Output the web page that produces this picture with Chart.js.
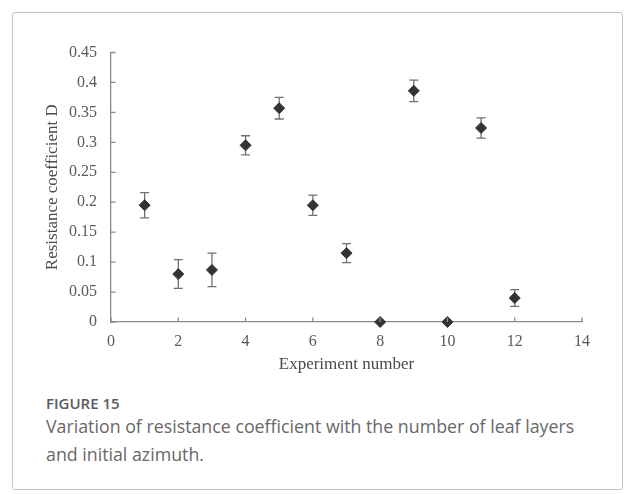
<!DOCTYPE html>
<html>
<head>
<meta charset="utf-8">
<script src="https://cdn.jsdelivr.net/npm/chart.js@4"></script>
<style>
  html, body { margin: 0; padding: 0; background: #fff; }
  body { width: 625px; height: 494px; position: relative; overflow: hidden; }
  #frame { position: absolute; left: 12px; top: 12px; width: 609px; height: 476px;
           border: 1.5px solid #c4c4c4; border-radius: 3px; }
  #wrap { position: absolute; left: 0; top: 0; width: 625px; height: 379px; }
  .figlabel { position: absolute; left: 46px; top: 393px; font-family: "Open Sans", sans-serif;
              font-weight: 600; font-size: 15px; line-height: 20px; color: #5a5a5a; }
  .caption { position: absolute; left: 46px; top: 412px; width: 560px; font-family: "Open Sans", sans-serif;
             font-weight: 400; font-size: 17.8px; line-height: 28px; color: #686868; }
</style>
</head>
<body>
<div id="frame"></div>
<div id="wrap"><canvas id="c"></canvas></div>
<div class="figlabel">FIGURE 15</div>
<div class="caption">Variation of resistance coefficient with the number of leaf layers and initial azimuth.</div>
<script>
const experiments = [1, 2, 3, 4, 5, 6, 7, 8, 9, 10, 11, 12];
const resistance  = [0.195, 0.080, 0.087, 0.295, 0.357, 0.195, 0.115, 0, 0.386, 0, 0.324, 0.040];
const errors      = [0.021, 0.024, 0.028, 0.016, 0.018, 0.017, 0.016, 0, 0.018, 0, 0.017, 0.014];
const xTicks = [0, 2, 4, 6, 8, 10, 12, 14];
const yTicks = [0, 0.05, 0.1, 0.15, 0.2, 0.25, 0.3, 0.35, 0.4, 0.45];

const AXIS_COLOR = '#8a8a8a';

const errorBars = {
  id: 'errorBars',
  beforeDatasetsDraw(chart) {
    const ctx = chart.ctx;
    const xs = chart.scales.x, ys = chart.scales.y;
    ctx.save();
    ctx.strokeStyle = '#707070';
    ctx.lineWidth = 1.3;
    experiments.forEach((e, i) => {
      if (!errors[i]) return;
      const px = xs.getPixelForValue(e);
      const top = ys.getPixelForValue(resistance[i] + errors[i]);
      const bot = ys.getPixelForValue(resistance[i] - errors[i]);
      ctx.beginPath();
      ctx.moveTo(px, top); ctx.lineTo(px, bot);
      ctx.moveTo(px - 4.5, top); ctx.lineTo(px + 4.5, top);
      ctx.moveTo(px - 4.5, bot); ctx.lineTo(px + 4.5, bot);
      ctx.stroke();
    });
    ctx.restore();
  }
};

const innerTicks = {
  id: 'innerTicks',
  afterDraw(chart) {
    const ctx = chart.ctx;
    const xs = chart.scales.x, ys = chart.scales.y;
    const a = chart.chartArea;
    ctx.save();
    ctx.strokeStyle = AXIS_COLOR;
    ctx.lineWidth = 1.3;
    ctx.beginPath();
    xTicks.forEach(v => {
      const px = xs.getPixelForValue(v);
      ctx.moveTo(px, a.bottom); ctx.lineTo(px, a.bottom - 4.5);
    });
    yTicks.forEach(v => {
      const py = ys.getPixelForValue(v);
      ctx.moveTo(a.left, py); ctx.lineTo(a.left + 4.5, py);
    });
    ctx.stroke();
    ctx.restore();
  }
};

new Chart(document.getElementById('c'), {
  type: 'scatter',
  data: {
    datasets: [{
      data: experiments.map((e, i) => ({ x: e, y: resistance[i] })),
      pointStyle: 'rectRot',
      pointRadius: 5.5,
      pointHoverRadius: 5.5,
      backgroundColor: '#333333',
      borderColor: '#333333',
      borderWidth: 1,
      clip: false
    }]
  },
  options: {
    responsive: true,
    maintainAspectRatio: false,
    animation: false,
    events: [],
    layout: { padding: { left: 38, top: 52.5, right: 43, bottom: 0 } },
    plugins: { legend: { display: false }, tooltip: { enabled: false } },
    scales: {
      x: {
        type: 'linear', min: 0, max: 14,
        afterBuildTicks: s => { s.ticks = xTicks.map(v => ({ value: v })); },
        afterFit: s => { s.height = 57; },
        grid: { display: false, drawTicks: false },
        border: { display: true, color: AXIS_COLOR, width: 1.3 },
        ticks: { padding: 10, color: '#595959', font: { family: '"Liberation Serif", "Times New Roman", serif', size: 16 } },
        title: { display: true, text: 'Experiment number', color: '#4a4a4a',
                 font: { family: '"Liberation Serif", "Times New Roman", serif', size: 17 } }
      },
      y: {
        type: 'linear', min: 0, max: 0.45,
        afterBuildTicks: s => { s.ticks = yTicks.map(v => ({ value: v })); },
        afterFit: s => { s.width = 73; },
        grid: { display: false, drawTicks: false },
        border: { display: true, color: AXIS_COLOR, width: 1.3 },
        ticks: { padding: 14, color: '#595959', callback: v => String(v),
                 font: { family: '"Liberation Serif", "Times New Roman", serif', size: 16 } },
        title: { display: true, text: 'Resistance coefficient D', color: '#4a4a4a',
                 font: { family: '"Liberation Serif", "Times New Roman", serif', size: 17 } }
      }
    }
  },
  plugins: [errorBars, innerTicks]
});
</script>
</body>
</html>
